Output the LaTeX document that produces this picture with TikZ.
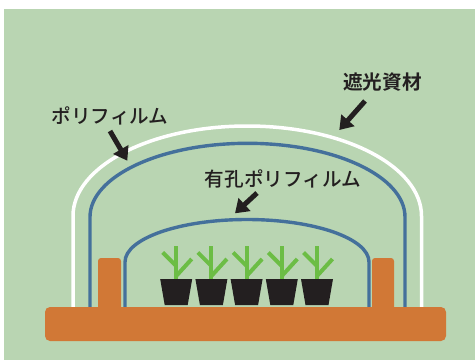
\documentclass[tikz,border=0pt]{standalone}
\usepackage{fontspec}
\IfFontExistsTF{Noto Sans CJK JP Medium}
  {\newfontfamily\jpfont{Noto Sans CJK JP Medium}}
  {\newfontfamily\jpfont{Noto Sans CJK JP}}
\newfontfamily\jpbold{Noto Sans CJK JP Bold}
\usetikzlibrary{arrows.meta}
\definecolor{bggreen}{RGB}{185,213,178}
\definecolor{soil}{RGB}{209,120,54}
\definecolor{film}{RGB}{68,112,155}
\definecolor{potblack}{RGB}{35,31,32}
\definecolor{leaf}{RGB}{108,189,69}
\tikzset{
  shade/.style={draw=white, line width=3.5pt},
  filmline/.style={draw=film, line width=3.4pt},
  pot/.style={fill=potblack},
  stem/.style={draw=leaf, line width=4pt},
  bench/.style={fill=soil, rounded corners=5pt},
  post/.style={fill=soil, rounded corners=3pt},
  label/.style={inner sep=0pt, text=potblack, font=\jpfont\fontsize{19.6}{22}\selectfont},
  boldlabel/.style={label, font=\jpbold\fontsize{19.6}{22}\selectfont},
  pointer/.style={draw=potblack, line width=5pt, -{Triangle[length=13pt, width=17pt]}}
}
\begin{document}
\begin{tikzpicture}[x=1pt, y=-1pt]
  \useasboundingbox (0,0) rectangle (475,360);
  \fill[white] (0,0) rectangle (475,360);
  \fill[bggreen] (4,9) rectangle (475,360);

  % light-shading cover
  \draw[shade] (73,307) -- (73,216)
    .. controls (73,166.3) and (151,126) .. (247.25,126)
    .. controls (343.5,126) and (421.5,166.3) .. (421.5,216) -- (421.5,307);
  % outer plastic film
  \draw[filmline] (90,307) -- (90,217)
    .. controls (90,176.3) and (160.5,143.3) .. (247.5,143.3)
    .. controls (334.5,143.3) and (405,176.3) .. (405,217) -- (405,307);
  % perforated inner film
  \draw[filmline] (125,307) -- (125,262)
    .. controls (125,238.5) and (179.6,219.5) .. (247,219.5)
    .. controls (314.4,219.5) and (369,238.5) .. (369,262) -- (369,307);

  % seedlings in pots
  \foreach \cx in {176.2,211.4,246.6,281.8,317} {
    \draw[stem] (\cx,279) -- (\cx,246);
    \draw[stem] (\cx-13.5,252.5) -- (\cx,266);
    \draw[stem] (\cx,276) -- (\cx+15.5,259);
    \fill[pot] (\cx-16,279) -- (\cx+16,279) -- (\cx+11.5,305) -- (\cx-11.5,305) -- cycle;
  }

  % frame posts and bench
  \fill[post] (98,258) rectangle (121,315);
  \fill[post] (372,258) rectangle (394,315);
  \fill[bench] (45,307) rectangle (446,341);

  % labels
  \node[label] (poly) at (110,115.5) {ポリフィルム};
  \node[boldlabel] (shading) at (382.5,82.5) {遮光資材};
  \node[label] (perf) at (283,178.5) {有孔ポリフィルム};

  \coordinate (polyA) at (110,131);
  \coordinate (polyB) at (127.3,160.7);
  \coordinate (shadeA) at (365,101);
  \coordinate (shadeB) at (339.3,130);
  \coordinate (perfA) at (257,193);
  \coordinate (perfB) at (235,213.3);
  \draw[pointer] (polyA) -- (polyB);
  \draw[pointer] (shadeA) -- (shadeB);
  \draw[pointer] (perfA) -- (perfB);
\end{tikzpicture}
\end{document}
